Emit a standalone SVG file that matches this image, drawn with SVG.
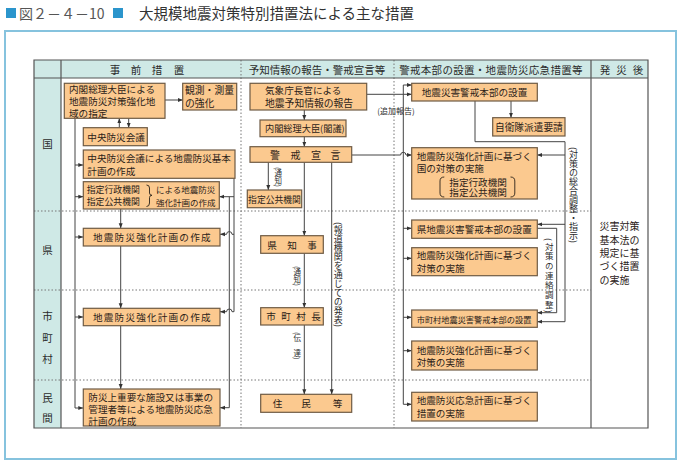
<svg xmlns="http://www.w3.org/2000/svg" width="680" height="465" viewBox="0 0 680 465">
<style>
.bg{fill:#ffffff}
.frame{fill:none;stroke:#86c3de;stroke-width:2}
.sq{fill:#2b95cc}
.teal{fill:#cfe9e6}
.grid{stroke:#555;stroke-width:1.2;fill:none}
.dot{stroke:#777;stroke-width:1;stroke-dasharray:1.5 2;fill:none}
.node rect{fill:#fbc98f;stroke:#6e5a44;stroke-width:1.2}
.t{font-family:"Noto Sans CJK JP","Noto Sans CJK SC",sans-serif;font-size:9.6px;fill:#2b2218;dominant-baseline:central}
.h{font-family:"Noto Sans CJK JP",sans-serif;font-size:10.5px;fill:#2b2b2b;dominant-baseline:central}
.v{font-family:"Noto Sans CJK JP",sans-serif;fill:#2b2b2b;writing-mode:vertical-rl}
.conn path{stroke:#444;stroke-width:1;fill:none}
.conn .a{marker-end:url(#ah)}
.bk{stroke:#2b2218;stroke-width:0.9;fill:none}
</style>
<defs>
<marker id="ah" viewBox="0 0 10 10" refX="10" refY="5" markerWidth="5" markerHeight="5" markerUnits="userSpaceOnUse" orient="auto">
<path d="M0,1 L10,5 L0,9 z" fill="#333"/>
</marker>
</defs>
<rect class="bg" x="0" y="0" width="680" height="465"/>
<!-- title -->
<rect class="sq" x="6" y="8" width="10" height="10"/>
<text x="19" y="19" style="font-family:'Noto Sans CJK JP',sans-serif;font-size:14px;fill:#555">図２－４－10</text>
<rect class="sq" x="113" y="8" width="10" height="10"/>
<text x="139" y="19" style="font-family:'Noto Sans CJK JP',sans-serif;font-size:14.5px;fill:#333">大規模地震対策特別措置法による主な措置</text>
<rect class="frame" x="5" y="31" width="671" height="428"/>

<!-- table -->
<rect class="teal" x="34" y="60" width="27" height="368"/>
<rect class="teal" x="61" y="60" width="587" height="18"/>
<path class="dot" d="M34,211 H591 M34,290 H591 M34,380 H591 M241,60 V428 M394,60 V428"/>
<path class="grid" d="M34,60 H648 V428 H34 Z M34,78 H648 M61,60 V428 M591,60 V428"/>

<text class="h" x="115 136 157 179" y="69" text-anchor="middle">事前措置</text>
<text class="h" x="317" y="69" text-anchor="middle">予知情報の報告・警戒宣言等</text>
<text class="h" x="491" y="69" text-anchor="middle" letter-spacing="0.3">警戒本部の設置・地震防災応急措置等</text>
<text class="h" x="605 621.5 638" y="69" text-anchor="middle">発災後</text>

<text class="h" x="47.5" y="143" text-anchor="middle">国</text>
<text class="h" x="47.5" y="249" text-anchor="middle">県</text>
<text class="h" x="47.5 47.5 47.5" y="315 337 358" text-anchor="middle">市町村</text>
<text class="h" x="47.5 47.5" y="397 417" text-anchor="middle">民間</text>

<text class="t" x="599.5" y="225.7" style="font-size:10px">災害対策</text>
<text class="t" x="599.5" y="239" style="font-size:10px">基本法の</text>
<text class="t" x="599.5" y="252.4" style="font-size:10px">規定に基</text>
<text class="t" x="599.5" y="265.8" style="font-size:10px">づく措置</text>
<text class="t" x="599.5" y="279.2" style="font-size:10px">の実施</text>

<!-- connectors -->
<g id="connectors" class="conn">
<path class="a" d="M165,100 H182.7"/>
<path class="a" d="M119.3,127.7 V118.3"/>
<path class="a" d="M128.7,118.3 V127.7"/>
<path class="a" d="M75,118.3 V408 H83.3"/>
<path class="a" d="M75,165 H83.3"/>
<path class="a" d="M75,196.7 H83.3"/>
<path class="a" d="M75,237 H83.3"/>
<path class="a" d="M75,317 H83.3"/>
<path class="a" d="M120.7,209 V228.3"/>
<path class="a" d="M120.7,246 V308.3"/>
<path class="a" d="M120.7,325.7 V389"/>
<path d="M234,178.3 V311.7"/>
<path class="a" d="M234,196.7 H219.3"/>
<path class="a" d="M234,234.3 H232 A2.7,2.7 0 0 0 226.6,234.3 H220"/>
<path class="a" d="M234,311.7 H232 A2.7,2.7 0 0 0 226.6,311.7 H220"/>
<path class="a" d="M229.3,196.7 V407.7 H220"/>

<path class="a" d="M304.3,110 V120"/>
<path class="a" d="M304.3,136.7 V146.7"/>
<path class="a" d="M268.3,162.3 V190"/>
<path class="a" d="M304.3,162.3 V235.7"/>
<path class="a" d="M304.3,253.3 V307.7"/>
<path class="a" d="M304.3,325 V394.3"/>
<path class="a" d="M331.7,162.3 V394.3"/>

<path class="a" d="M366.7,94.3 H411.7"/>
<path class="a" d="M403.3,404.3 V85 H411.7"/>
<path class="a" d="M403.3,404.3 H411.7"/>
<path class="a" d="M403.3,228.3 H411.7"/>
<path class="a" d="M403.3,258.3 H411.7"/>
<path class="a" d="M403.3,317.3 H411.7"/>
<path class="a" d="M403.3,350.7 H411.7"/>
<path class="a" d="M352,155 H400.6 A2.7,2.7 0 0 1 406,155 H411.7"/>
<path class="a" d="M511,101 V117.7"/>
<path class="a" d="M475,101 V141.7 H565 V321.7 H537.3"/>
<path class="a" d="M565,155 H537.3"/>
<path class="a" d="M565,224.3 H537.3"/>
<path class="a" d="M537.3,228.3 H556.7 V312.7 H537.3"/>

<text class="v" x="278.3" y="167" style="font-size:7.5px">(通知)</text>
<text class="v" x="297.3" y="266" style="font-size:7.5px">(通知)</text>
<text class="v" x="297.3" y="332" style="font-size:7.5px">(伝　達)</text>
<text class="v" x="338.3" y="222" style="font-size:9px">(報道機関を通じての発表)</text>
<text class="v" x="573.5" y="147" style="font-size:9px">(対策の総合調整・指示)</text>
<text class="v" x="549.3" y="238" style="font-size:8.5px" letter-spacing="1.2">(対策の連絡調整)</text>
<text x="396" y="110" text-anchor="middle" style="font-family:'Noto Sans CJK JP',sans-serif;font-size:8px;fill:#2b2b2b;dominant-baseline:central">(追加報告)</text>
</g>

<!-- nodes -->
<g id="n-shitei" class="node">
<rect x="64.3" y="83.3" width="100.7" height="35"/>
<text class="t" x="69" y="89">内閣総理大臣による</text>
<text class="t" x="69" y="101">地震防災対策強化地</text>
<text class="t" x="69" y="113">域の指定</text>
</g>
<g id="n-kansoku" class="node">
<rect x="182.7" y="83.3" width="54" height="26.7"/>
<text class="t" x="185" y="90" style="font-size:9.8px">観測・測量</text>
<text class="t" x="185" y="103" style="font-size:9.8px">の強化</text>
</g>
<g id="n-chuo" class="node">
<rect x="83.3" y="127.7" width="64" height="18"/>
<text class="t" x="87.3" y="136.7">中央防災会議</text>
</g>
<g id="n-kihon" class="node">
<rect x="83.3" y="150" width="151.7" height="28.3"/>
<text class="t" x="87.3" y="158.3">中央防災会議による地震防災基本</text>
<text class="t" x="87.3" y="171">計画の作成</text>
</g>
<g id="n-kikan-plan" class="node">
<rect x="83.3" y="181.7" width="136" height="27.3"/>
<text class="t" x="86.7" y="189" style="font-size:8.9px">指定行政機関</text>
<text class="t" x="86.7" y="201.7" style="font-size:8.9px">指定公共機関</text>
<path class="bk" d="M146.5,185 Q149.5,185 149.5,188 V193 Q149.5,195.3 152,195.3 Q149.5,195.3 149.5,197.6 V203 Q149.5,206.5 146.5,206.5"/>
<text class="t" x="156" y="189" style="font-size:8.5px">による地震防災</text>
<text class="t" x="156" y="201.7" style="font-size:8.5px">強化計画の作成</text>
</g>
<g id="n-ken-plan" class="node">
<rect x="83.3" y="228.3" width="136.7" height="17.7"/>
<text class="t" x="93" y="237.2" letter-spacing="1.2">地震防災強化計画の作成</text>
</g>
<g id="n-shi-plan" class="node">
<rect x="83.3" y="308.3" width="136.7" height="17.4"/>
<text class="t" x="93" y="317" letter-spacing="1.2">地震防災強化計画の作成</text>
</g>
<g id="n-min-plan" class="node">
<rect x="83.3" y="389" width="136.7" height="37"/>
<text class="t" x="88.3" y="397">防災上重要な施設又は事業の</text>
<text class="t" x="88.3" y="409">管理者等による地震防災応急</text>
<text class="t" x="88.3" y="421">計画の作成</text>
</g>

<g id="n-kishocho" class="node">
<rect x="250" y="83.3" width="116.7" height="26.7"/>
<text class="t" x="265" y="90" style="font-size:9.6px">気象庁長官による</text>
<text class="t" x="265" y="102.7" style="font-size:9.8px">地震予知情報の報告</text>
</g>
<g id="n-kakugi" class="node">
<rect x="260" y="120" width="86" height="16.7"/>
<text class="t" x="265" y="128.3" style="font-size:9.2px">内閣総理大臣(閣議)</text>
</g>
<g id="n-keikai" class="node">
<rect x="250" y="146.7" width="101.7" height="15.6"/>
<text class="t" x="275 295.5 316 335.5" y="154.5" text-anchor="middle" style="font-size:10px">警戒宣言</text>
</g>
<g id="n-kokyo" class="node">
<rect x="247.3" y="190" width="54.4" height="17.7"/>
<text class="t" x="274.5" y="199" text-anchor="middle" style="font-size:8.8px">指定公共機関</text>
</g>
<g id="n-chiji" class="node">
<rect x="260.7" y="235.7" width="62.6" height="17.6"/>
<text class="t" x="272 292 312" y="244.5" text-anchor="middle" style="font-size:9.6px">県知事</text>
</g>
<g id="n-chocho" class="node">
<rect x="260.7" y="307.7" width="62.6" height="17.3"/>
<text class="t" x="271 286 301 316" y="316.4" text-anchor="middle" style="font-size:9.6px">市町村長</text>
</g>
<g id="n-jumin" class="node">
<rect x="260.7" y="394.3" width="91" height="18"/>
<text class="t" x="277.5 306 337.5" y="403.3" text-anchor="middle" style="font-size:9.6px">住民等</text>
</g>

<g id="n-honbu" class="node">
<rect x="411.7" y="83.3" width="125.6" height="17.7"/>
<text class="t" x="474.5" y="92.2" text-anchor="middle">地震災害警戒本部の設置</text>
</g>
<g id="n-jieitai" class="node">
<rect x="492.7" y="117.7" width="72.3" height="18.3"/>
<text class="t" x="495" y="127" style="font-size:9.7px">自衛隊派遣要請</text>
</g>
<g id="n-kuni-taisaku" class="node">
<rect x="411.7" y="147.7" width="125.6" height="51.3"/>
<text class="t" x="416.7" y="156">地震防災強化計画に基づく</text>
<text class="t" x="416.7" y="167.5">国の対策の実施</text>
<path class="bk" d="M444.3,177 Q440,177 440,181 V193 Q440,197 444.3,197"/>
<text class="t" x="449.3" y="181.5">指定行政機関</text>
<text class="t" x="449.3" y="192">指定公共機関</text>
<path class="bk" d="M510.5,177 Q514.8,177 514.8,181 V193 Q514.8,197 510.5,197"/>
</g>
<g id="n-ken-honbu" class="node">
<rect x="411.7" y="220" width="125.6" height="18.3"/>
<text class="t" x="416.7" y="229.2">県地震災害警戒本部の設置</text>
</g>
<g id="n-ken-taisaku" class="node">
<rect x="411.7" y="247.7" width="125.6" height="28"/>
<text class="t" x="416.7" y="255.3">地震防災強化計画に基づく</text>
<text class="t" x="416.7" y="268">対策の実施</text>
</g>
<g id="n-shi-honbu" class="node">
<rect x="411.7" y="310" width="125.6" height="17.3"/>
<text class="t" x="416.7" y="318.7" style="font-size:8.2px">市町村地震災害警戒本部の設置</text>
</g>
<g id="n-shi-taisaku" class="node">
<rect x="411.7" y="341" width="125.6" height="29"/>
<text class="t" x="416.7" y="349.5">地震防災強化計画に基づく</text>
<text class="t" x="416.7" y="361.5">対策の実施</text>
</g>
<g id="n-okyu" class="node">
<rect x="411.7" y="392.3" width="125.6" height="28.7"/>
<text class="t" x="416.7" y="400.3">地震防災応急計画に基づく</text>
<text class="t" x="416.7" y="412.5">措置の実施</text>
</g>
</svg>
